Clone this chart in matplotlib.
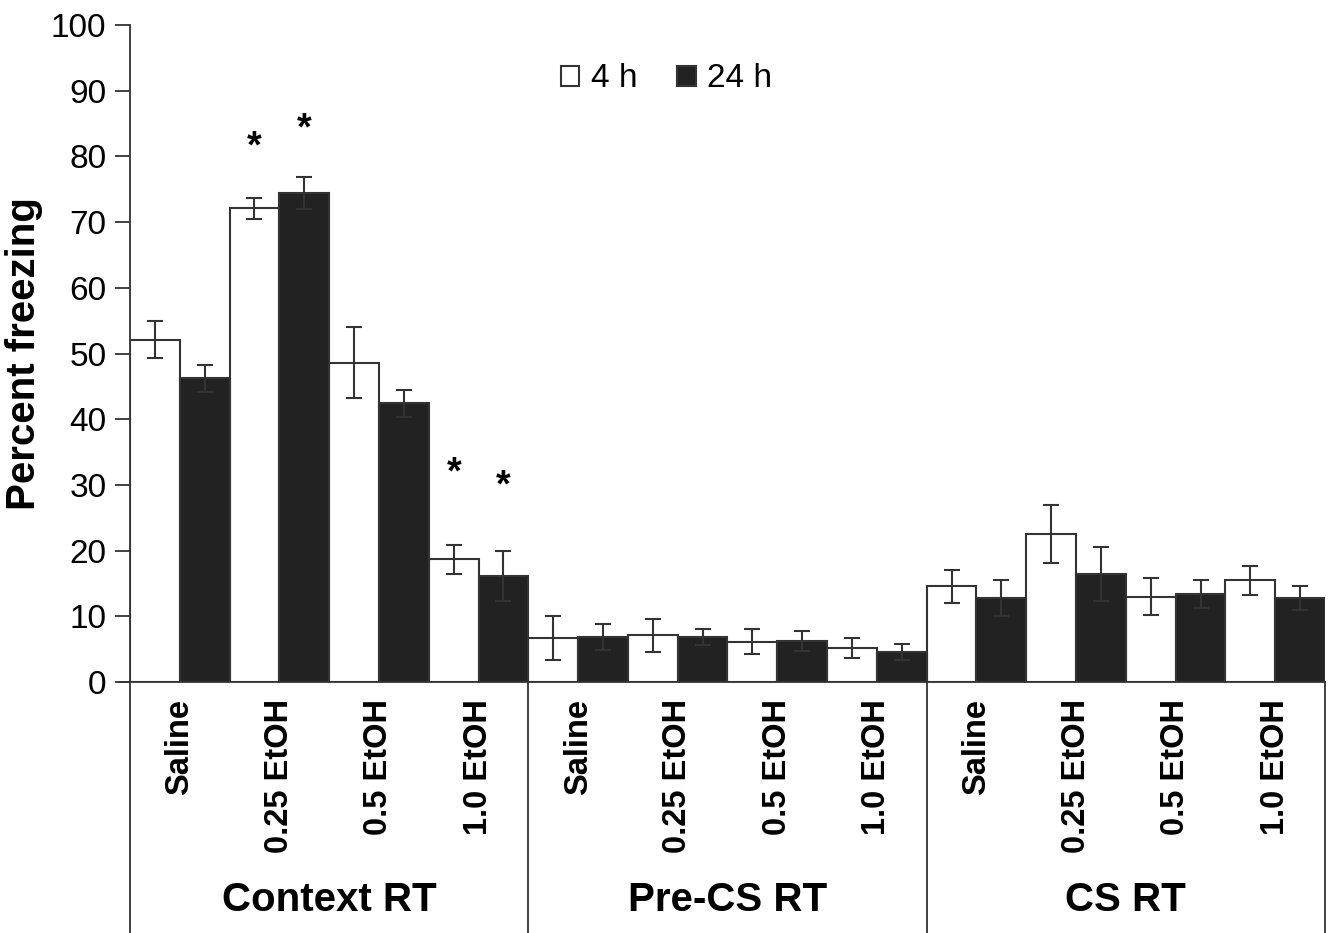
import matplotlib
matplotlib.use("Agg")
import matplotlib.pyplot as plt
import matplotlib.transforms as mtransforms
import numpy as np

plt.rcParams['font.family'] = ['Liberation Sans', 'DejaVu Sans']

groups = ["Context RT", "Pre-CS RT", "CS RT"]
conditions = ["Saline", "0.25 EtOH", "0.5 EtOH", "1.0 EtOH"]
series = ["4 h", "24 h"]

mean_4h = [52.1, 72.1, 48.6, 18.7,
           6.7, 7.1, 6.1, 5.2,
           14.6, 22.5, 13.0, 15.5]
err_4h = [2.8, 1.6, 5.4, 2.2,
          3.3, 2.5, 1.9, 1.5,
          2.5, 4.4, 2.8, 2.2]
mean_24h = [46.2, 74.4, 42.4, 16.2,
            6.8, 6.85, 6.25, 4.6,
            12.8, 16.5, 13.4, 12.8]
err_24h = [2.1, 2.4, 2.1, 3.8,
           2.0, 1.2, 1.5, 1.2,
           2.7, 4.1, 2.1, 1.8]

# significance stars: (category index, series index, y)
star_idx = [1, 1, 3, 3]
star_series = [0, 1, 0, 1]
star_y = [82.5, 85.3, 32.9, 31.0]

dark = "#222222"
edge = "#333333"

fig = plt.figure(figsize=(13.32, 9.33), dpi=100)
ax = fig.add_axes([130/1332, 1-682/933, 1195/1332, 657/933])

n = len(mean_4h)
x = np.arange(n)
w = 0.5
ekw = dict(ecolor=edge, elinewidth=1.5, capsize=6, capthick=1.5)
ax.bar(x - w/2, mean_4h, w, color="white", edgecolor=edge, linewidth=1.5,
       yerr=err_4h, error_kw=ekw, label=series[0], zorder=2)
ax.bar(x + w/2, mean_24h, w, color=dark, edgecolor=edge, linewidth=1.5,
       yerr=err_24h, error_kw=ekw, label=series[1], zorder=2)

star_off = mtransforms.ScaledTranslation(0, -8/100, fig.dpi_scale_trans)
for i, s, yv in zip(star_idx, star_series, star_y):
    ax.text(i + (w/2 if s else -w/2), yv, "*", ha="center", va="center",
            fontsize=27, fontweight="bold", color="black",
            transform=ax.transData + star_off)

ax.set_xlim(-0.5, n - 0.5)
ax.set_ylim(0, 100)
ax.set_yticks(np.arange(0, 101, 10))
ax.tick_params(axis="y", labelsize=24, length=11, width=1.3, pad=6, color=edge)
ax.set_xticks([])
for sp in ["top", "right"]:
    ax.spines[sp].set_visible(False)
ax.spines["left"].set_color(edge)
ax.spines["left"].set_linewidth(1.3)
ax.spines["bottom"].set_color(edge)
ax.spines["bottom"].set_linewidth(1.3)
ax.set_ylabel("Percent freezing", fontsize=29, fontweight="bold", labelpad=6)

trans = ax.get_xaxis_transform()
# bottom line extending slightly left
ax.plot([-0.5 - 0.1, -0.5], [0, 0], transform=trans, color=edge, lw=1.3, clip_on=False)
# category labels
for k in range(n):
    ax.text(x[k], -0.026, conditions[k % len(conditions)], transform=trans,
            rotation=90, ha="center", va="top", fontsize=23.5, fontweight="bold")
# separators
nc = len(conditions)
for b in range(len(groups) + 1):
    xb = b * nc - 0.5
    ax.plot([xb, xb], [0, -0.39], transform=trans, color=edge, lw=1.3, clip_on=False)
for g, name in enumerate(groups):
    ax.text(g * nc + (nc - 1) / 2, -0.332, name, transform=trans, ha="center",
            va="center", fontsize=29, fontweight="bold")

leg = ax.legend(loc="center", bbox_to_anchor=(0.449, 0.918), ncol=2, frameon=False,
                fontsize=24, handlelength=0.55, handleheight=0.55, handletextpad=0.35,
                columnspacing=1.2)

fig.savefig("out.png", dpi=100)
